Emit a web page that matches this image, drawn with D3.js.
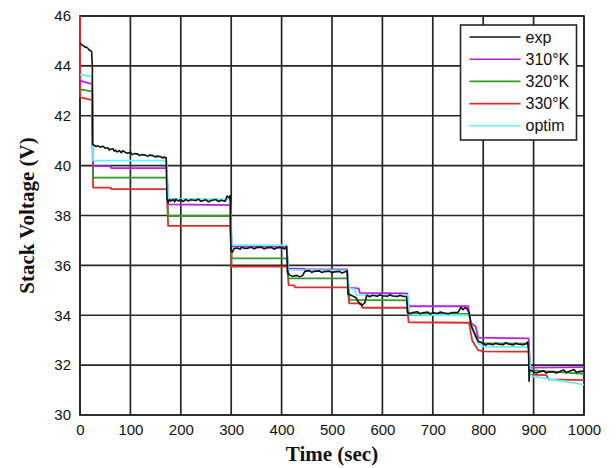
<!DOCTYPE html>
<html>
<head>
<meta charset="utf-8">
<script src="https://cdn.jsdelivr.net/npm/d3@7"></script>
<style>
  body { margin: 0; background: #fff; }
  svg { display: block; }
  .tick text { font-family: "Liberation Sans", Arial, sans-serif; font-size: 15px; fill: #111; }
  .axis-title { font-family: "Liberation Serif", "Times New Roman", serif; font-weight: bold; font-size: 21px; fill: #111; }
  .legend text { font-family: "Liberation Sans", Arial, sans-serif; font-size: 16px; fill: #111; }
</style>
</head>
<body>
<svg id="chart"></svg>
<script>
const chartSize = {width: 616, height: 468};
const margin = {left: 80, right: 32, top: 16, bottom: 53};

const width = chartSize.width - margin.left - margin.right;
const height = chartSize.height - margin.top - margin.bottom;

const xTicks = [0, 100, 200, 300, 400, 500, 600, 700, 800, 900, 1000];
const yTicks = [30, 32, 34, 36, 38, 40, 42, 44, 46];

// [time (s), voltage (V)]
const expData = [
  [0, 44.9], [3, 44.86], [5, 44.82], [8, 44.8], [10, 44.74], [12, 44.76], [16, 44.7], [18, 44.64], [20, 44.62],
  [23, 44.58], [24.5, 44.0], [25, 40.85],
  [28, 40.82], [32, 40.76], [35, 40.8], [40, 40.74], [45, 40.78], [50, 40.7], [55, 40.72], [58, 40.62], [60, 40.66],
  [65, 40.68], [68, 40.58], [70, 40.62], [74, 40.55], [78, 40.6], [82, 40.52], [85, 40.6], [90, 40.53], [95, 40.5],
  [100, 40.54], [104, 40.44], [108, 40.48], [115, 40.46], [118, 40.4], [122, 40.44], [130, 40.42], [134, 40.37],
  [138, 40.42], [145, 40.4], [150, 40.34], [152, 40.38], [160, 40.36], [164, 40.3], [166, 40.34], [171, 40.32],
  [172.5, 38.7], [175, 38.52], [178, 38.64], [180, 38.58], [185, 38.64], [188, 38.55], [190, 38.66], [195, 38.58],
  [200, 38.64], [205, 38.56], [210, 38.65], [215, 38.58], [220, 38.63], [230, 38.6], [235, 38.66], [240, 38.57],
  [250, 38.63], [255, 38.55], [260, 38.6], [270, 38.64], [275, 38.56], [280, 38.61], [288, 38.57], [292, 38.78],
  [296, 38.7], [298, 38.8], [299.5, 36.6],
  [302, 36.52], [306, 36.68], [312, 36.7], [318, 36.65], [320, 36.72], [330, 36.68], [340, 36.73], [345, 36.66],
  [350, 36.71], [360, 36.73], [365, 36.66], [370, 36.7], [380, 36.72], [385, 36.65], [390, 36.7], [400, 36.72],
  [406, 36.66], [410, 36.76], [412, 35.7],
  [416, 35.62], [422, 35.56], [430, 35.6], [436, 35.54], [442, 35.6], [446, 35.76], [455, 35.79], [460, 35.72],
  [465, 35.76], [475, 35.78], [480, 35.71], [485, 35.75], [495, 35.77], [500, 35.7], [505, 35.74], [515, 35.76],
  [520, 35.69], [525, 35.73], [530, 35.79], [532, 34.85],
  [540, 34.78], [548, 34.7], [552, 34.55], [555, 34.46], [560, 34.4], [565, 34.5], [569, 34.8], [575, 34.74],
  [580, 34.8], [590, 34.76], [595, 34.82], [600, 34.78], [610, 34.76], [615, 34.82], [620, 34.77], [630, 34.75],
  [635, 34.8], [640, 34.76], [648, 34.74], [650, 34.12],
  [655, 34.06], [660, 34.11], [670, 34.14], [675, 34.06], [680, 34.1], [690, 34.13], [695, 34.05], [700, 34.1],
  [710, 34.07], [715, 34.13], [720, 34.1], [730, 34.06], [740, 34.11], [750, 34.12], [756, 34.32], [760, 34.22],
  [764, 34.3], [768, 34.26], [772, 34.1], [776, 33.6], [782, 33.3], [790, 32.95], [800, 32.88],
  [805, 32.8], [810, 32.86], [820, 32.82], [825, 32.88], [830, 32.84], [840, 32.82], [845, 32.9], [850, 32.85],
  [860, 32.81], [865, 32.88], [870, 32.84], [880, 32.82], [885, 32.86], [888, 32.92], [890, 32.6], [891, 31.35],
  [892, 31.8], [900, 31.74], [905, 31.68], [910, 31.72], [920, 31.77], [925, 31.68], [930, 31.72], [940, 31.74],
  [945, 31.68], [950, 31.72], [960, 31.8], [965, 31.7], [970, 31.74], [980, 31.82], [985, 31.7], [990, 31.74],
  [1000, 31.76]
];

const k310Data = [
  [0, 43.41], [24, 43.27], [26, 39.99], [60, 39.98], [62, 39.9], [172, 39.9], [175, 38.45], [298, 38.42],
  [301, 36.76], [410, 36.74], [413, 35.88], [446, 35.86], [448, 35.84], [530, 35.84], [533, 35.1], [553, 35.08],
  [555, 34.9], [649, 34.88], [652, 34.36], [770, 34.36], [775, 33.7], [785, 33.55], [790, 33.1], [890, 33.07],
  [893, 31.9], [1000, 31.92]
];

const k320Data = [
  [0, 43.06], [24, 42.98], [26, 39.52], [172, 39.52], [175, 37.98], [298, 37.98], [301, 36.28], [411, 36.28],
  [414, 35.48], [531, 35.48], [535, 34.62], [649, 34.6], [652, 34.07], [772, 34.05], [778, 33.5], [790, 32.95],
  [800, 32.88], [890, 32.86], [893, 31.8], [1000, 31.65]
];

const k330Data = [
  [0, 46], [0.5, 42.74], [24, 42.63], [26, 39.12], [60, 39.12], [62, 39.06], [172, 39.06], [175, 37.58],
  [298, 37.58], [301, 35.95], [411, 35.95], [414, 35.21], [425, 35.2], [427, 35.12], [531, 35.12], [534, 34.48],
  [558, 34.48], [560, 34.3], [649, 34.3], [652, 33.72], [772, 33.7], [778, 33.0], [790, 32.6], [800, 32.55],
  [890, 32.54], [893, 31.62], [925, 31.6], [930, 31.43], [1000, 31.4]
];

const optimData = [
  [0, 43.65], [24, 43.57], [26, 40.2], [172, 40.2], [175, 38.68], [298, 38.65], [301, 36.82], [410, 36.8],
  [413, 35.82], [530, 35.8], [533, 35.08], [545, 35.05], [548, 34.82], [650, 34.8], [654, 34.02], [772, 34.0],
  [778, 33.5], [790, 32.85], [800, 32.74], [890, 32.72], [895, 31.56], [930, 31.45], [960, 31.35], [1000, 31.22]
];

const seriesNames = ["exp", "310°K", "320°K", "330°K", "optim"];
const seriesColors = ["#111111", "#b620e8", "#35982a", "#e42a2a", "#5ff5f8"];
const seriesData = [expData, k310Data, k320Data, k330Data, optimData];
const drawOrder = [3, 2, 1, 4, 0];

const drawChart = () => {
  const x = d3.scaleLinear().domain([0, 1000]).range([0, width]);
  const y = d3.scaleLinear().domain([30, 46]).range([height, 0]);

  const svg = d3.select("#chart")
    .attr("width", chartSize.width)
    .attr("height", chartSize.height);

  const g = svg.append("g")
    .attr("transform", `translate(${margin.left},${margin.top})`);

  // grid
  g.append("g")
    .selectAll("line")
    .data(xTicks)
    .enter()
    .append("line")
    .attr("x1", d => x(d)).attr("x2", d => x(d))
    .attr("y1", 0).attr("y2", height)
    .attr("stroke", "#262626")
    .attr("stroke-width", 1.7);

  g.append("g")
    .selectAll("line")
    .data(yTicks)
    .enter()
    .append("line")
    .attr("x1", 0).attr("x2", width)
    .attr("y1", d => y(d)).attr("y2", d => y(d))
    .attr("stroke", "#262626")
    .attr("stroke-width", 1.7);

  g.append("rect")
    .attr("width", width)
    .attr("height", height)
    .attr("fill", "none")
    .attr("stroke", "#262626")
    .attr("stroke-width", 1.7);

  const xAxis = d3.axisBottom(x).tickValues(xTicks).tickFormat(d3.format("d")).tickSize(0).tickPadding(9);
  const yAxis = d3.axisLeft(y).tickValues(yTicks).tickFormat(d3.format("d")).tickSize(0).tickPadding(9);

  g.append("g")
    .attr("class", "x-axis")
    .attr("transform", `translate(0,${height})`)
    .call(xAxis)
    .call(a => a.select(".domain").remove());

  g.append("g")
    .attr("class", "y-axis")
    .call(yAxis)
    .call(a => a.select(".domain").remove());

  // lines
  const line = d3.line()
    .x(d => x(d[0]))
    .y(d => y(d[1]));

  drawOrder.forEach(i => {
    g.append("path")
      .datum(seriesData[i])
      .attr("fill", "none")
      .attr("stroke", seriesColors[i])
      .attr("stroke-width", i === 0 ? 1.6 : 1.8)
      .attr("stroke-linejoin", "round")
      .attr("d", line);
  });

  // titles
  g.append("text")
    .attr("class", "axis-title")
    .attr("x", width / 2)
    .attr("y", height + 46)
    .attr("text-anchor", "middle")
    .text("Time (sec)");

  g.append("text")
    .attr("class", "axis-title")
    .attr("transform", "rotate(-90)")
    .attr("x", -height / 2)
    .attr("y", -46)
    .attr("text-anchor", "middle")
    .text("Stack Voltage (V)");

  // legend
  const legend = g.append("g")
    .attr("class", "legend")
    .attr("transform", `translate(${x(755)},9)`);

  legend.append("rect")
    .attr("width", 116)
    .attr("height", 115)
    .attr("fill", "#fff")
    .attr("stroke", "#262626")
    .attr("stroke-width", 1.6);

  const items = legend.selectAll(".item")
    .data(seriesNames)
    .enter()
    .append("g")
    .attr("transform", (d, i) => `translate(0,${12 + i * 22.2})`);

  items.append("line")
    .attr("x1", 9).attr("x2", 60)
    .attr("stroke", (d, i) => seriesColors[i])
    .attr("stroke-width", 1.6);

  items.append("text")
    .attr("x", 65)
    .attr("dy", "0.35em")
    .text(d => d);
};

window.onload = drawChart;
</script>
</body>
</html>
